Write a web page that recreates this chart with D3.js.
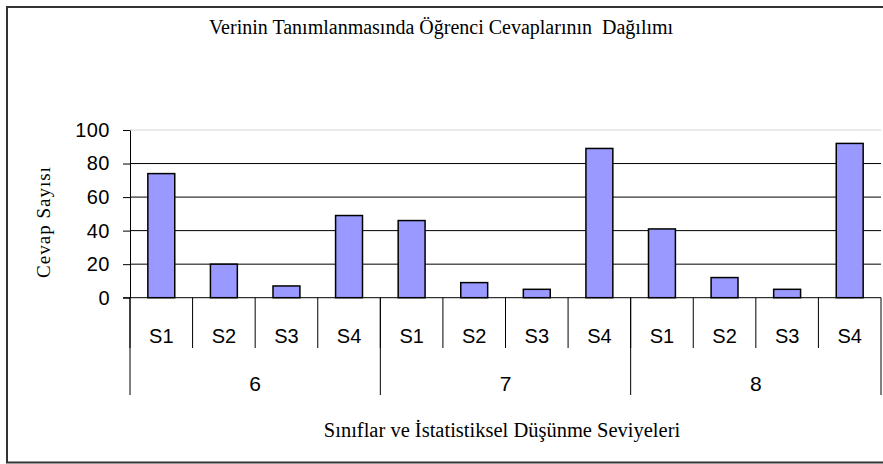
<!DOCTYPE html>
<html>
<head>
<meta charset="utf-8">
<script src="https://cdn.jsdelivr.net/npm/d3@7"></script>
<style>
  html, body { margin: 0; background: #fff; overflow: hidden; }
  svg { display: block; }
  .serif { font-family: "Liberation Serif", "Times New Roman", serif; fill: #000; }
  .sans { font-family: "Liberation Sans", Arial, sans-serif; fill: #000; }
</style>
</head>
<body>
<div id="chart"></div>
<script>
// grades (outer categories) and thinking levels (inner categories)
const grades = ['6', '7', '8'];
const levels = ['S1', 'S2', 'S3', 'S4'];
// answer counts per grade, in level order S1..S4
const counts6 = [74, 20, 7, 49];
const counts7 = [46, 9, 5, 89];
const counts8 = [41, 12, 5, 92];
const yTicks = [0, 20, 40, 60, 80, 100];

const title = 'Verinin Tanımlanmasında Öğrenci Cevaplarının  Dağılımı';
const yTitle = 'Cevap Sayısı';
const xTitle = 'Sınıflar ve İstatistiksel Düşünme Seviyeleri';

const w = 883;
const h = 464;
const plotLeft = 130;
const plotRight = 881;
const plotTop = 130;
const plotBottom = 297.7;

const allCounts = [counts6, counts7, counts8];
const data = [];
grades.forEach((g, gi) => {
  levels.forEach((l, li) => {
    data.push({ key: g + '-' + l, grade: g, level: l, value: allCounts[gi][li] });
  });
});

const x = d3.scaleBand().domain(data.map((d) => d.key)).range([plotLeft, plotRight]);
const y = d3.scaleLinear().domain([0, 100]).range([plotBottom, plotTop]);
const barW = x.bandwidth() * 0.43;

const svg = d3.select('#chart').append('svg').attr('width', w).attr('height', h);

// outer frame: top, left and bottom only (right edge is cut off in the picture)
svg.append('path')
  .attr('d', `M${w},7 H7 V462.5 H${w}`)
  .attr('fill', 'none').attr('stroke', '#333').attr('stroke-width', 2);

// title
svg.append('text').attr('class', 'serif')
  .attr('x', 441).attr('y', 34)
  .attr('text-anchor', 'middle')
  .style('font-size', '20px')
  .style('white-space', 'pre')
  .text(title);

// gridlines
svg.append('g')
  .selectAll('line')
  .data(yTicks.filter((t) => t > 0 && t < 100))
  .enter()
  .append('line')
  .attr('x1', plotLeft).attr('x2', plotRight)
  .attr('y1', (d) => y(d)).attr('y2', (d) => y(d))
  .attr('stroke', '#000').attr('stroke-width', 1);

// light top border of the plot area
svg.append('line')
  .attr('x1', plotLeft).attr('x2', plotRight)
  .attr('y1', y(100)).attr('y2', y(100))
  .attr('stroke', '#d4d4d4').attr('stroke-width', 1);

// bars
svg.append('g')
  .selectAll('rect')
  .data(data)
  .enter()
  .append('rect')
  .attr('x', (d) => x(d.key) + (x.bandwidth() - barW) / 2)
  .attr('y', (d) => y(d.value))
  .attr('width', barW)
  .attr('height', (d) => y(0) - y(d.value))
  .attr('fill', '#9999ff')
  .attr('stroke', '#000')
  .attr('stroke-width', 1.5);

// y axis
const yAxis = d3.axisLeft(y).tickValues(yTicks).tickSize(7).tickSizeOuter(0).tickPadding(13);
const yg = svg.append('g').attr('transform', `translate(${plotLeft},0)`).call(yAxis);
yg.attr('font-family', null).attr('font-size', null);
yg.select('.domain').attr('stroke', '#000');
yg.selectAll('.tick line').attr('stroke', '#000');
yg.selectAll('.tick text')
  .attr('class', 'sans')
  .style('font-size', '20px')
  .style('letter-spacing', '0.5px')
  .attr('fill', '#000');

// category axis along zero
svg.append('line')
  .attr('x1', plotLeft - 7).attr('x2', plotRight)
  .attr('y1', y(0)).attr('y2', y(0))
  .attr('stroke', '#000').attr('stroke-width', 1);

// inner separators (levels)
svg.append('g')
  .selectAll('line')
  .data(data)
  .enter()
  .append('line')
  .attr('x1', (d) => x(d.key)).attr('x2', (d) => x(d.key))
  .attr('y1', y(0)).attr('y2', 348)
  .attr('stroke', '#000').attr('stroke-width', 1);

// outer separators (grades)
const groupEdges = grades.map((g) => x(g + '-' + levels[0])).concat([plotRight]);
svg.append('g')
  .selectAll('line')
  .data(groupEdges)
  .enter()
  .append('line')
  .attr('x1', (d) => d).attr('x2', (d) => d)
  .attr('y1', y(0)).attr('y2', 395)
  .attr('stroke', '#000').attr('stroke-width', 1);

// level labels
svg.append('g')
  .selectAll('text')
  .data(data)
  .enter()
  .append('text')
  .attr('class', 'sans')
  .attr('x', (d) => x(d.key) + x.bandwidth() / 2)
  .attr('y', 342.5)
  .attr('text-anchor', 'middle')
  .style('font-size', '20px')
  .text((d) => d.level);

// grade labels
svg.append('g')
  .selectAll('text')
  .data(grades)
  .enter()
  .append('text')
  .attr('class', 'sans')
  .attr('x', (g) => (x(g + '-' + levels[0]) + x(g + '-' + levels[3]) + x.bandwidth()) / 2)
  .attr('y', 390.5)
  .attr('text-anchor', 'middle')
  .style('font-size', '21px')
  .text((g) => g);

// axis titles
svg.append('text').attr('class', 'serif')
  .attr('transform', 'translate(50,222) rotate(-90)')
  .attr('text-anchor', 'middle')
  .style('font-size', '19px')
  .style('letter-spacing', '1px')
  .text(yTitle);

svg.append('text').attr('class', 'serif')
  .attr('x', 502).attr('y', 437)
  .attr('text-anchor', 'middle')
  .style('font-size', '20.5px')
  .text(xTitle);
</script>
</body>
</html>
